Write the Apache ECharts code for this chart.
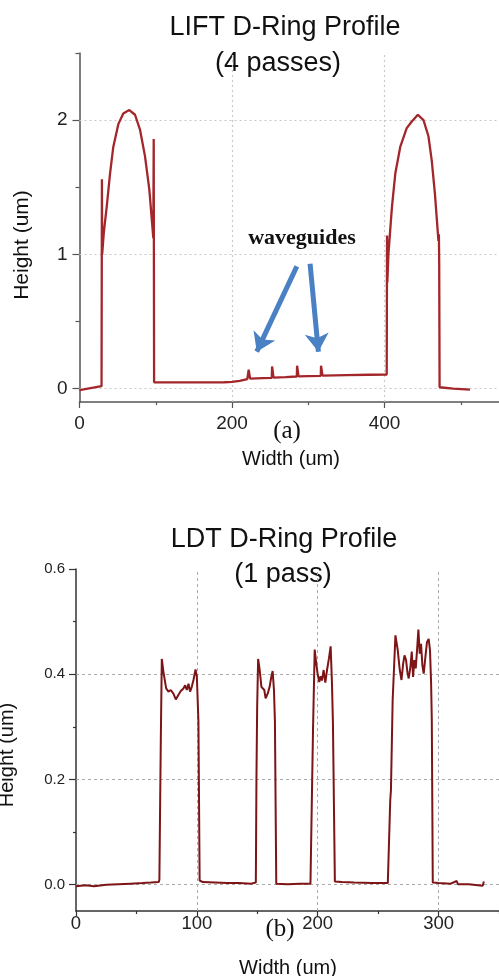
<!DOCTYPE html>
<html>
<head>
<meta charset="utf-8">
<script src="https://cdn.jsdelivr.net/npm/echarts@6/dist/echarts.min.js"></script>
<style>
  html, body { margin: 0; padding: 0; background: #fff; }
  #chart { width: 499px; height: 976px; }
</style>
</head>
<body>
<div id="chart"></div>
<script>
// (a) LIFT profile, 4 passes
const liftWidth = [
    0, 28.9, 29.4, 29.7, 32, 35.6, 40, 44.3, 50.9, 57.4, 65.3, 72.8, 79.3, 85.9, 91.6, 96.8, 97.3, 97.8,
    110, 150, 190, 200, 210, 220,
    221.4, 221.8, 223.3, 223.7, 240,
    252.1, 252.5, 254.0, 254.4, 270,
    284.9, 285.3, 286.8, 287.2, 300,
    316.3, 316.7, 318.2, 318.6, 350, 380, 402.8,
    403.2, 403.6, 405, 409.6, 414, 420.5, 429, 435.7, 443.6, 451, 457.5, 461.8, 466, 470.6, 471.2, 471.6, 472.1,
    490, 512
];
const liftHeight = [
    -0.012, 0.018, 1.56, 1.0, 1.17, 1.35, 1.6, 1.8, 1.97, 2.05, 2.075, 2.04, 1.93, 1.73, 1.48, 1.12, 1.86, 0.047,
    0.046, 0.046, 0.047, 0.05, 0.058, 0.07,
    0.072, 0.14, 0.14, 0.074, 0.078,
    0.08, 0.165, 0.165, 0.082, 0.086,
    0.09, 0.17, 0.17, 0.091, 0.093,
    0.095, 0.17, 0.17, 0.096, 0.1, 0.103, 0.105,
    1.14, 0.79, 1.0, 1.35, 1.6, 1.8, 1.94, 1.99, 2.04, 2.0, 1.88, 1.7, 1.45, 1.1, 1.15, 0.94, 0.01,
    0.0, -0.008
];

// (b) LDT profile, 1 pass
const ldtWidth = [
    0, 8, 15, 25, 35, 45, 55, 62, 68.5, 69.0, 69.6, 70.2,
    71.0, 72.3, 74.6, 76.5, 78.4, 80.6, 82.6, 84.8, 86.7, 88.9, 90.3, 91.7, 93.1, 94.4, 95.8, 97.2, 98.9, 100.0, 101.3,
    102.3, 105, 115, 125, 135, 145, 148.8, 149.3, 149.9,
    150.7, 152.0, 153.4, 154.7, 155.8, 156.9, 158.6, 160.2, 161.6, 162.7, 163.8, 164.6,
    165.7, 175, 185, 194, 195.6, 196.1,
    197.5, 198.8, 199.9, 201.3, 202.4, 203.5, 204.9, 206.3, 207.7, 209.3, 210.7, 211.8, 212.6,
    214.2, 220, 230, 245, 258, 259.5, 260.0, 260.6, 262.0,
    264.3, 266.2, 267.9, 269.3, 270.7, 271.8, 273.1, 274.2, 275.3, 276.7, 277.8, 278.9, 280.0, 281.1,
    282.2, 283.3, 284.4, 285.5, 286.6, 287.7, 289.1, 290.4, 291.8, 292.9, 293.8, 294.4,
    295.2, 300, 310, 315, 316, 325, 336.5, 337.5
];
const ldtHeight = [
    -0.003, -0.001, -0.003, 0.0, 0.001, 0.002, 0.003, 0.004, 0.005, 0.01, 0.15, 0.281,
    0.429, 0.405, 0.373, 0.367, 0.37, 0.363, 0.352, 0.361, 0.368, 0.373, 0.379, 0.37, 0.382, 0.367, 0.376, 0.389, 0.409, 0.395, 0.31,
    0.008, 0.005, 0.004, 0.003, 0.003, 0.002, 0.004, 0.2, 0.338,
    0.429, 0.408, 0.376, 0.379, 0.37, 0.354, 0.363, 0.376, 0.395, 0.406, 0.37, 0.31,
    0.002, 0.001, 0.002, 0.002, 0.004, 0.293,
    0.447, 0.42, 0.401, 0.385, 0.396, 0.388, 0.408, 0.384, 0.408, 0.43, 0.453, 0.382, 0.306,
    0.006, 0.005, 0.004, 0.003, 0.003, 0.005, 0.16, 0.18, 0.35,
    0.474, 0.446, 0.408, 0.389, 0.42, 0.436, 0.427, 0.404, 0.392, 0.414, 0.443, 0.395, 0.427, 0.411,
    0.446, 0.485, 0.439, 0.458, 0.417, 0.401, 0.433, 0.461, 0.467, 0.446, 0.385, 0.313,
    0.004, 0.003, 0.002, 0.007, 0.001, 0.001, -0.002, 0.006
];

// ticks and grid lines
const liftXMajor = [0, 200, 400];
const liftXMinor = [100, 300, 500];
const liftYMajor = [0, 1, 2];
const liftYMinor = [0.5, 1.5, 2.5];
const liftXGrid = [200, 400];
const liftYGrid = [0, 1, 2];

const ldtXMajor = [0, 100, 200, 300];
const ldtXMinor = [50, 150, 250, 350];
const ldtYMajor = [0, 0.2, 0.4, 0.6];
const ldtYMinor = [0.1, 0.3, 0.5];
const ldtXGrid = [100, 200, 300];
const ldtYGrid = [0, 0.2, 0.4];

// "waveguides" arrows (tail -> head, in data units)
const arrowTails = [[284.9, 0.91], [302.3, 0.93]];
const arrowHeads = [[232.4, 0.275], [313.2, 0.275]];

function zip(xs, ys) {
    return xs.map(function (x, i) { return [x, ys[i]]; });
}

function gridMarks(xs, ys, style) {
    const data = [];
    xs.forEach(function (v) { data.push({ xAxis: v }); });
    ys.forEach(function (v) { data.push({ yAxis: v }); });
    return {
        silent: true,
        symbol: 'none',
        z: 1,
        animation: false,
        label: { show: false },
        lineStyle: style,
        data: data
    };
}

function makeAxis(gridIndex, min, max, ticks, tickLen, labels, opts) {
    return Object.assign({
        type: 'value',
        gridIndex: gridIndex,
        min: min,
        max: max,
        splitLine: { show: false },
        axisLine: { show: !!labels, onZero: false, lineStyle: { color: opts.axisColor, width: 1.5 } },
        axisTick: {
            show: true,
            customValues: ticks,
            length: tickLen,
            lineStyle: { color: opts.axisColor, width: 1.2 }
        },
        axisLabel: labels ? {
            show: true,
            customValues: labels,
            margin: opts.margin,
            color: '#222',
            fontFamily: 'Liberation Sans',
            fontSize: opts.fontSize,
            formatter: opts.formatter
        } : { show: false }
    }, opts.extra || {});
}

const chart = echarts.init(document.getElementById('chart'));

const textFont = 'Liberation Sans';
const serifFont = 'Liberation Serif';

function label(text, x, y, font, rotation) {
    return {
        type: 'text',
        x: x,
        y: y,
        rotation: rotation || 0,
        style: {
            text: text,
            font: font,
            fill: '#111',
            textAlign: 'center',
            textVerticalAlign: 'middle'
        }
    };
}

const options = {
    animation: false,
    backgroundColor: '#fff',
    grid: [
        { left: 79.5, top: 53, width: 419.5, height: 349 },
        { left: 76, top: 569, width: 423, height: 342 }
    ],
    xAxis: [
        makeAxis(0, 0, 550, liftXMajor, 6, liftXMajor, {
            axisColor: '#555', margin: 12, fontSize: 19, extra: { position: 'bottom' }
        }),
        makeAxis(0, 0, 550, liftXMinor, 3, null, { axisColor: '#555', extra: { position: 'bottom' } }),
        makeAxis(1, 0, 350, ldtXMajor, 5, ldtXMajor, {
            axisColor: '#333', margin: 3, fontSize: 18.5, extra: { position: 'bottom' }
        }),
        makeAxis(1, 0, 350, ldtXMinor, 3, null, { axisColor: '#333', extra: { position: 'bottom' } })
    ],
    yAxis: [
        makeAxis(0, -0.1, 2.5, liftYMajor, 7, liftYMajor, {
            axisColor: '#555', margin: 12, fontSize: 19, extra: { position: 'left' }
        }),
        makeAxis(0, -0.1, 2.5, liftYMinor, 4, null, { axisColor: '#555', extra: { position: 'left' } }),
        makeAxis(1, -0.05, 0.6, ldtYMajor, 7, ldtYMajor, {
            axisColor: '#333', margin: 11, fontSize: 15,
            formatter: function (v) { return v.toFixed(1); },
            extra: { position: 'left' }
        }),
        makeAxis(1, -0.05, 0.6, ldtYMinor, 3, null, { axisColor: '#333', extra: { position: 'left' } })
    ],
    series: [
        {
            type: 'line',
            xAxisIndex: 0,
            yAxisIndex: 0,
            data: zip(liftWidth, liftHeight),
            showSymbol: false,
            symbol: 'none',
            z: 3,
            lineStyle: { color: '#a3262b', width: 2.3 },
            markLine: gridMarks(liftXGrid, liftYGrid, { color: '#c8c8c8', type: [2, 3], width: 1.2 })
        },
        {
            type: 'lines',
            coordinateSystem: 'cartesian2d',
            xAxisIndex: 0,
            yAxisIndex: 0,
            z: 4,
            symbol: ['none', 'arrow'],
            symbolSize: 18,
            lineStyle: { color: '#4a80c4', width: 5, opacity: 1 },
            data: arrowTails.map(function (t, i) { return { coords: [t, arrowHeads[i]] }; })
        },
        {
            type: 'line',
            xAxisIndex: 2,
            yAxisIndex: 2,
            data: zip(ldtWidth, ldtHeight),
            showSymbol: false,
            symbol: 'none',
            z: 3,
            lineStyle: { color: '#7d1416', width: 2 },
            markLine: gridMarks(ldtXGrid, ldtYGrid, { color: '#aaaaaa', type: [3, 3], width: 1 })
        }
    ],
    graphic: [
        label('LIFT D-Ring Profile', 285, 28, '27px ' + textFont),
        label('(4 passes)', 278, 64, '27px ' + textFont),
        label('Height (um)', 22, 245, '21px ' + textFont, Math.PI / 2),
        label('Width (um)', 291, 459, '20px ' + textFont),
        label('(a)', 287, 431, '25px ' + serifFont),
        label('waveguides', 302, 238, 'bold 22px ' + serifFont),
        label('LDT D-Ring Profile', 284, 540, '27px ' + textFont),
        label('(1 pass)', 283, 575, '27px ' + textFont),
        label('Height (um)', 7, 755, '20px ' + textFont, Math.PI / 2),
        label('Width (um)', 288, 968, '20px ' + textFont),
        label('(b)', 280, 929, '25px ' + serifFont)
    ]
};

chart.setOption(options);
</script>
</body>
</html>
